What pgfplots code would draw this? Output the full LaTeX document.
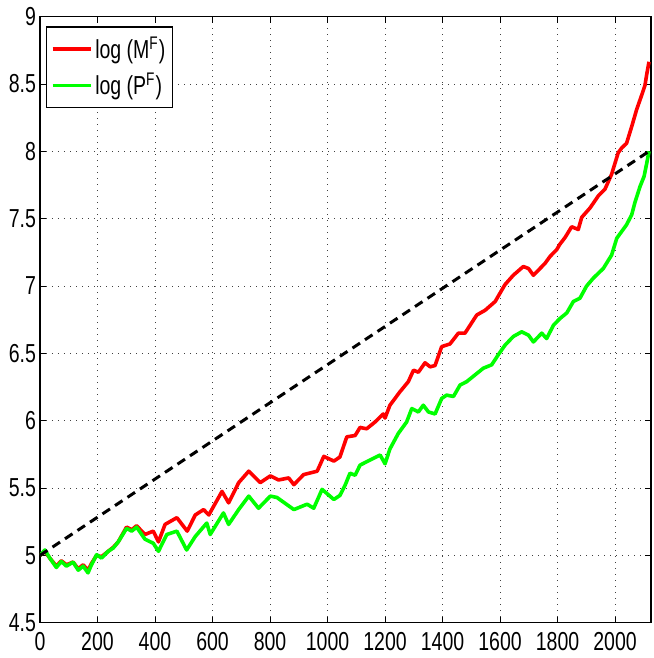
\documentclass[border=0pt]{standalone}
\usepackage{fontspec}
\setmainfont{Liberation Sans}[FakeStretch=0.75]
\usepackage{pgfplots}
\pgfplotsset{compat=1.18}
\begin{document}
\begin{tikzpicture}
\begin{axis}[
  scale only axis,
  width=305.5pt, height=303pt,
  xmin=0, xmax=2125, ymin=4.5, ymax=9,
  xtick={0,200,...,2000},
  ytick={4.5,5,...,9},
  /pgf/number format/1000 sep={},
  /pgf/number format/assume math mode=true,
  font=\fontsize{13}{15}\selectfont,
  yticklabel style={xshift=1.5pt},
  xticklabel style={yshift=-1.5pt},
  tick align=inside,
  major tick length=3pt,
  axis line style={line width=0.7pt},
  tick style={line width=0.5pt, black},
  grid=major,
  major grid style={dash pattern=on 0.5pt off 2.5pt, line width=0.5pt, black!75},
  legend style={at={(rel axis cs:0.01,0.984)}, anchor=north west, draw=black, line width=0.6pt,
    font=\fontsize{13}{15}\selectfont, row sep=2pt, inner xsep=2pt, inner ysep=3pt,
    nodes={inner xsep=1.5pt, inner ysep=2pt}},
  legend cell align=left,
  legend image code/.code={\draw[#1] (0pt,0pt) -- (19pt,0pt);},
]
\addplot[red, line width=1.8pt, line join=round] coordinates {
(0,5.0)(17,5.03)(34,4.98)(57,4.92)(74,4.96)(92,4.93)(115,4.95)(133,4.9)(150,4.93)(167,4.89)(179,4.94)(197,5.0)(214,4.99)(237,5.03)(255,5.06)(272,5.1)(301,5.21)(319,5.19)(336,5.22)(365,5.155)(394,5.18)(412,5.10)(435,5.23)(476,5.28)(512,5.18)(540,5.30)(569,5.34)(587,5.30)(633,5.475)(656,5.39)(691,5.54)(726,5.625)(766,5.54)(801,5.59)(830,5.56)(865,5.575)(883,5.525)(917,5.60)(964,5.625)(987,5.735)(1022,5.70)(1043,5.73)(1067,5.88)(1096,5.89)(1113,5.95)(1136,5.94)(1165,5.99)(1194,6.05)(1200,6.02)(1217,6.115)(1252,6.215)(1281,6.29)(1299,6.375)(1316,6.36)(1339,6.43)(1357,6.40)(1374,6.41)(1397,6.55)(1426,6.57)(1455,6.65)(1478,6.65)(1519,6.785)(1548,6.82)(1583,6.885)(1617,7.01)(1646,7.08)(1681,7.145)(1699,7.13)(1716,7.08)(1739,7.13)(1757,7.17)(1774,7.22)(1797,7.27)(1808,7.31)(1826,7.36)(1849,7.44)(1872,7.42)(1884,7.51)(1913,7.58)(1942,7.67)(1965,7.72)(1988,7.83)(2011,7.99)(2023,8.025)(2040,8.06)(2058,8.185)(2075,8.31)(2093,8.42)(2104,8.49)(2110,8.57)(2118,8.665)
};
\addlegendentry{log (M\textsuperscript{F})}
\addplot[green, line width=1.8pt, line join=round] coordinates {
(0,5.0)(17,5.04)(34,4.98)(57,4.91)(74,4.955)(92,4.92)(115,4.95)(133,4.89)(150,4.92)(167,4.87)(179,4.93)(197,5.005)(214,4.98)(237,5.03)(255,5.055)(272,5.1)(301,5.2)(319,5.18)(336,5.21)(365,5.12)(394,5.09)(412,5.03)(441,5.155)(476,5.18)(510,5.04)(540,5.14)(580,5.24)(592,5.155)(638,5.315)(656,5.23)(691,5.34)(726,5.44)(760,5.35)(801,5.44)(824,5.43)(883,5.34)(929,5.38)(952,5.35)(981,5.49)(1022,5.415)(1043,5.445)(1061,5.52)(1078,5.61)(1096,5.595)(1113,5.67)(1136,5.695)(1159,5.72)(1183,5.745)(1200,5.68)(1217,5.79)(1246,5.905)(1275,5.99)(1293,6.09)(1316,6.065)(1333,6.115)(1351,6.065)(1374,6.05)(1397,6.165)(1414,6.19)(1438,6.18)(1461,6.265)(1484,6.29)(1513,6.34)(1542,6.39)(1571,6.415)(1594,6.49)(1617,6.56)(1646,6.625)(1675,6.66)(1699,6.635)(1716,6.585)(1745,6.65)(1762,6.61)(1786,6.71)(1809,6.76)(1832,6.80)(1855,6.885)(1878,6.91)(1901,7.0)(1925,7.06)(1959,7.13)(1988,7.23)(2006,7.355)(2023,7.405)(2040,7.455)(2058,7.53)(2069,7.62)(2087,7.74)(2101,7.815)(2110,7.91)(2118,8.0)
};
\addlegendentry{log (P\textsuperscript{F})}
\addplot[black, line width=1.5pt, dash pattern=on 4.5pt off 3pt, forget plot] coordinates {(0,5.0)(2118,8.0)};
\end{axis}
\path (current axis.south west) ++(-20pt,-17.65pt) coordinate (bbsw);
\path (current axis.north east) ++(1pt,8.35pt) coordinate (bbne);
\path (bbsw) rectangle (bbne);
\end{tikzpicture}
\end{document}
